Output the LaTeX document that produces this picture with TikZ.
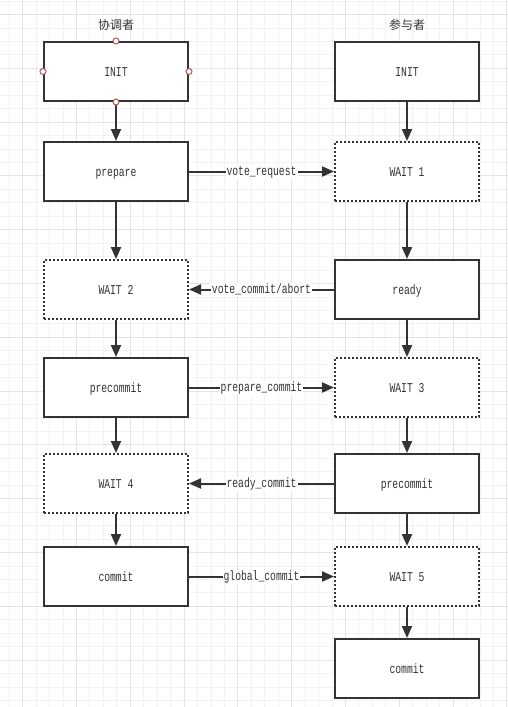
\documentclass[tikz,border=0pt]{standalone}
\usepackage{fontspec}
\newfontfamily\boxfont[FakeStretch=0.72]{Liberation Mono}
\newfontfamily\cjk{Noto Sans CJK SC}
\usetikzlibrary{arrows.meta}
\definecolor{ink}{HTML}{333333}
\definecolor{gridminor}{HTML}{F2F2F2}
\definecolor{gridmajor}{HTML}{E4E4E4}
\definecolor{portred}{HTML}{B85450}
\tikzset{
  statebox/.style={draw=ink, line width=2pt, fill=white, minimum width=144pt, minimum height=59pt, inner sep=0pt, text height=9pt, text depth=0pt, font=\boxfont\fontsize{13.5pt}{15pt}\selectfont, text=ink},
  waitbox/.style={statebox, dash pattern=on 2pt off 2pt},
  flow/.style={draw=ink, line width=2pt, -{Triangle[length=12pt,width=10pt]}},
  msg/.style={fill=white, inner xsep=1pt, inner ysep=2pt, text height=9pt, text depth=1pt, font=\boxfont\fontsize{13.5pt}{15pt}\selectfont, text=ink},
  header/.style={font=\cjk\fontsize{12pt}{14pt}\selectfont, text=ink},
  port/.style={circle, draw=portred, fill=white, line width=1pt, minimum size=6pt, inner sep=0pt}
}
\begin{document}
\begin{tikzpicture}[x=1pt,y=-1pt]
\useasboundingbox (0,0) rectangle (508,707);
\fill[white] (0,0) rectangle (508,707);
% grid
\begin{scope}
\clip (0,0) rectangle (508,707);
\foreach \k in {0,...,38} {
  \draw[gridminor, line width=1pt] ({-4.2+13.45*\k},0) -- ({-4.2+13.45*\k},707);
}
\foreach \k in {0,...,53} {
  \draw[gridminor, line width=1pt] (0,{1.1+13.45*\k}) -- (508,{1.1+13.45*\k});
}
\foreach \k in {0,...,9} {
  \draw[gridmajor, line width=1pt] ({22.7+53.8*\k},0) -- ({22.7+53.8*\k},707);
}
\foreach \k in {0,...,13} {
  \draw[gridmajor, line width=1pt] (0,{14.5+53.8*\k}) -- (508,{14.5+53.8*\k});
}
\end{scope}
% headers
\node[header] (hc) at (116,25) {协调者};
\node[header] (hp) at (407,25) {参与者};
% coordinator
\node[statebox] (cinit) at (116,71.5) {INIT};
\node[statebox] (cprep) at (116,171.5) {prepare};
\node[waitbox]  (cw2)   at (116,289.5) {WAIT 2};
\node[statebox] (cpre)  at (116,387.5) {precommit};
\node[waitbox]  (cw4)   at (116,483.5) {WAIT 4};
\node[statebox] (ccom)  at (116,576.5) {commit};
% participant
\node[statebox] (pinit) at (407,71.5) {INIT};
\node[waitbox]  (pw1)   at (407,171.5) {WAIT 1};
\node[statebox] (pready) at (407,289.5) {ready};
\node[waitbox]  (pw3)   at (407,387.5) {WAIT 3};
\node[statebox] (ppre)  at (407,483.5) {precommit};
\node[waitbox]  (pw5)   at (407,576.5) {WAIT 5};
\node[statebox] (pcom)  at (407,668.5) {commit};
% vertical flows
\draw[flow] (cinit) -- (cprep);
\draw[flow] (cprep) -- (cw2);
\draw[flow] (cw2) -- (cpre);
\draw[flow] (cpre) -- (cw4);
\draw[flow] (cw4) -- (ccom);
\draw[flow] (pinit) -- (pw1);
\draw[flow] (pw1) -- (pready);
\draw[flow] (pready) -- (pw3);
\draw[flow] (pw3) -- (ppre);
\draw[flow] (ppre) -- (pw5);
\draw[flow] (pw5) -- (pcom);
% messages
\draw[flow] (cprep) -- node[msg] {vote\_request} (pw1);
\draw[flow] (pready) -- node[msg] {vote\_commit/abort} (cw2);
\draw[flow] (cpre) -- node[msg] {prepare\_commit} (pw3);
\draw[flow] (ppre) -- node[msg] {ready\_commit} (cw4);
\draw[flow] (ccom) -- node[msg] {global\_commit} (pw5);
% ports on the first box
\node[port] (pt1) at (cinit.north) {};
\node[port] (pt2) at (cinit.south) {};
\node[port] (pt3) at (cinit.west) {};
\node[port] (pt4) at (cinit.east) {};
\end{tikzpicture}
\end{document}
